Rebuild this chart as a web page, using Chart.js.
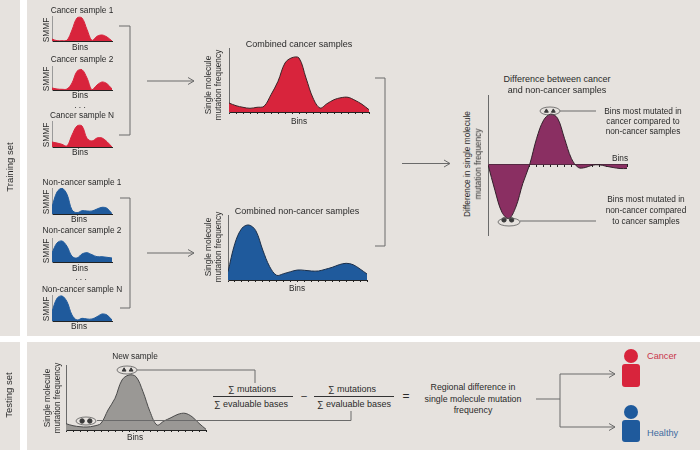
<!DOCTYPE html>
<html lang="en">
<head>
<meta charset="UTF-8">
<title>Single molecule mutation frequency classifier</title>
<script src="https://cdn.jsdelivr.net/npm/chart.js"></script>
<style>
    html, body { margin: 0; padding: 0; background: #fff; }
    #page { position: relative; width: 700px; height: 450px; overflow: hidden; font-family: "Liberation Sans", Arial, sans-serif; color: #2a2a2a; }
    .band { position: absolute; background: #e6e2de; }
    canvas { position: absolute; }
    svg { position: absolute; left: 0; top: 0; }
    .label { position: absolute; white-space: nowrap; font-size: 8.3px; line-height: 1; }
</style>
</head>
<body>
<div id="page">
    <div class="band" style="left:0;top:0;width:20px;height:336px"></div>
    <div class="band" style="left:27px;top:0;width:673px;height:336px"></div>
    <div class="band" style="left:0;top:342px;width:20px;height:108px"></div>
    <div class="band" style="left:27px;top:342px;width:673px;height:108px"></div>
</div>

<script>
    // heights, one value per bin
    const smallBins = [0, 1, 2, 3, 4, 5, 6, 7, 8, 9, 10, 11, 12];
    const cancerSample1 = [2, 0.3, 0.3, 0.7, 11, 23, 23, 11.5, 0.7, 4.7, 6, 4, 0];
    const cancerSample2 = [2, 1, 0.7, 1, 7, 18.7, 20.3, 12, 0.3, 5, 8, 6.3, 1];
    const cancerSampleN = [5, 4, 2.7, 1, 12, 21, 21, 8.7, 6, 9, 9, 5.3, 0];
    const nonCancerSample1 = [7, 22, 25.7, 19.7, 4, 1.3, 3.3, 3, 3, 5, 6.7, 5.7, 0.3];
    const nonCancerSample2 = [9, 19, 21, 15.7, 5.7, 4, 8, 9.3, 7.3, 5.3, 5.3, 4.7, 4];
    const nonCancerSampleN = [9.3, 22.7, 25, 19.3, 6, 1, 2.7, 2, 2, 4.3, 7, 6, 1];

    const bins = [0, 1, 2, 3, 4, 5, 6, 7, 8, 9, 10, 11, 12, 13, 14, 15, 16, 17, 18, 19, 20];
    const combinedCancer = [9, 6.3, 4.7, 3.7, 4.7, 5.7, 17.3, 30.7, 49, 54.3, 54, 34, 14, 4, 8.3, 12.3, 14.3, 14.7, 11.7, 7.7, 2.3];
    const combinedNonCancer = [8.3, 36.7, 51.7, 55, 49.3, 30, 13.3, 4.7, 6.3, 8.3, 10, 9.7, 9, 9, 10.7, 12.7, 15.3, 16.7, 15.3, 11, 6];
    const difference = [0, -25.7, -47.3, -53.7, -42.3, -19, 0, 26, 44, 50, 46, 26, 6, -3, -3, -0.7, -0.3, -1.7, -3, -4, -4];
    const newSample = [6.3, 4.3, 3.3, 3, 4, 6.7, 20, 31.7, 50, 55, 53.3, 38.3, 18.3, 5, 9, 12.3, 15.7, 16.7, 13.3, 6.7, 0.7];

    // flagged bins
    const diffUpBins = [8.4, 9.4];
    const diffUpValues = [53, 53];
    const diffDownBins = [2.3, 3.4];
    const diffDownValues = [-55, -55];
    const newUpBins = [8.3, 9.3];
    const newUpValues = [60, 60];
    const newDownBins = [2.3, 3.4];
    const newDownValues = [9, 9];

    const RED = "#d8243c", BLUE = "#1f5a9c", PURPLE = "#8a2f62", GREY = "#9a9895";
    const page = document.getElementById("page");

    function series(xs, ys) {
        return xs.map((x, i) => ({ x: x, y: ys[i] }));
    }

    function marks(xs, ys, style) {
        return {
            type: "line", showLine: false, data: series(xs, ys), pointStyle: style,
            pointRadius: 2.2, pointBackgroundColor: "#3a3a3a", pointBorderColor: "#3a3a3a", clip: false
        };
    }

    // p: left/right/top/bottom of the plot in page pixels, yMin/yMax in value units
    function addPanel(p) {
        const pad = 6;
        const c = document.createElement("canvas");
        c.width = p.right - p.left + pad * 2;
        c.height = p.bottom - p.top + pad * 2;
        c.style.left = (p.left - pad) + "px";
        c.style.top = (p.top - pad) + "px";
        page.appendChild(c);
        const datasets = [{
            data: series(p.xs, p.ys),
            borderColor: p.line, borderWidth: p.lineWidth, backgroundColor: p.color,
            fill: "origin", pointRadius: 0, tension: 0.35
        }].concat(p.marks || []);
        new Chart(c, {
            type: "line",
            data: { datasets: datasets },
            options: {
                responsive: false, animation: false,
                layout: { padding: { top: pad, right: pad, left: 0, bottom: 0 } },
                plugins: { legend: { display: false }, tooltip: { enabled: false }, title: { display: false } },
                scales: {
                    x: {
                        type: "linear", min: 0, max: p.xs[p.xs.length - 1],
                        position: p.crossAtZero ? { y: 0 } : "bottom",
                        afterFit: s => { s.height = pad; },
                        border: { color: "#222", width: 1 },
                        grid: { display: p.ticks, drawOnChartArea: false, drawTicks: true, tickLength: 2, color: "#222" },
                        ticks: { display: false, stepSize: 1, autoSkip: false }
                    },
                    y: {
                        min: p.yMin, max: p.yMax,
                        afterFit: s => { s.width = pad; },
                        border: { color: p.axis || "#6a6a6a", width: 1 },
                        grid: { display: false },
                        ticks: { display: false }
                    }
                }
            }
        });
    }

    function label(text, x, y, opts) {
        opts = opts || {};
        const d = document.createElement("div");
        d.className = "label";
        d.textContent = text;
        d.style.left = x + "px";
        d.style.top = y + "px";
        const anchor = opts.left ? "translate(0,-50%)" : "translate(-50%,-50%)";
        d.style.transform = anchor + (opts.rotate ? " rotate(-90deg)" : "");
        if (opts.size) d.style.fontSize = opts.size + "px";
        if (opts.color) d.style.color = opts.color;
        page.appendChild(d);
    }

    // six small sample charts
    const smallPanels = [
        { ys: cancerSample1, color: RED, top: 16, bottom: 41, title: "Cancer sample 1", titleY: 10, binsX: 80, binsY: 47 },
        { ys: cancerSample2, color: RED, top: 66, bottom: 90, title: "Cancer sample 2", titleY: 59, binsX: 80, binsY: 95 },
        { ys: cancerSampleN, color: RED, top: 121, bottom: 147, title: "Cancer sample N", titleY: 115, binsX: 80, binsY: 152 },
        { ys: nonCancerSample1, color: BLUE, top: 188, bottom: 214, title: "Non-cancer sample 1", titleY: 182, binsX: 79, binsY: 219 },
        { ys: nonCancerSample2, color: BLUE, top: 238, bottom: 262, title: "Non-cancer sample 2", titleY: 230, binsX: 80, binsY: 268 },
        { ys: nonCancerSampleN, color: BLUE, top: 295, bottom: 321, title: "Non-cancer sample N", titleY: 289, binsX: 79, binsY: 326 }
    ];
    smallPanels.forEach(s => {
        addPanel({
            left: 52, right: 112, top: s.top, bottom: s.bottom, xs: smallBins, ys: s.ys,
            yMin: 0, yMax: s.bottom - s.top, color: s.color, line: s.color, lineWidth: 1, ticks: false, axis: "#9a9a9a"
        });
        label(s.title, 82, s.titleY);
        label("Bins", s.binsX, s.binsY);
        label("SMMF", 46, (s.top + s.bottom) / 2 + 1, { rotate: true });
    });
    label(". . .", 80, 105);
    label(". . .", 81, 277);

    addPanel({ left: 229, right: 369, top: 48, bottom: 112, xs: bins, ys: combinedCancer, yMin: 0, yMax: 64, color: RED, line: "#3a2326", lineWidth: 1, ticks: true });
    label("Combined cancer samples", 299, 44, { size: 9 });
    label("Bins", 299, 121);
    label("Single molecule", 208, 85, { rotate: true });
    label("mutation frequency", 218, 85, { rotate: true });

    addPanel({ left: 228, right: 367, top: 215, bottom: 280, xs: bins, ys: combinedNonCancer, yMin: 0, yMax: 65, color: BLUE, line: "#1b2f4a", lineWidth: 1, ticks: true });
    label("Combined non-cancer samples", 297, 211, { size: 9 });
    label("Bins", 297, 288);
    label("Single molecule", 208, 247, { rotate: true });
    label("mutation frequency", 218, 247, { rotate: true });

    addPanel({
        left: 488, right: 627, top: 95, bottom: 234, xs: bins, ys: difference, yMin: -70, yMax: 69,
        color: PURPLE, line: "#33202b", lineWidth: 1, ticks: true, crossAtZero: true,
        marks: [marks(diffUpBins, diffUpValues, "triangle"), marks(diffDownBins, diffDownValues, "circle")]
    });
    label("Difference between cancer", 557, 79, { size: 9 });
    label("and non-cancer samples", 557, 90, { size: 9 });
    label("Difference in single molecule", 467, 164, { rotate: true });
    label("mutation frequency", 478, 164, { rotate: true });
    label("Bins", 620, 158);
    ["Bins most mutated in", "cancer compared to", "non-cancer samples"].forEach((t, i) => label(t, 643, 111 + i * 10));
    ["Bins most mutated in", "non-cancer compared", "to cancer samples"].forEach((t, i) => label(t, 646, 199 + i * 11));

    addPanel({
        left: 66, right: 206, top: 365, bottom: 430, xs: bins, ys: newSample, yMin: 0, yMax: 65,
        color: GREY, line: "#4a4a4a", lineWidth: 1, ticks: true,
        marks: [marks(newUpBins, newUpValues, "triangle"), marks(newDownBins, newDownValues, "circle")]
    });
    label("New sample", 135, 356);
    label("Bins", 135, 437);
    label("Single molecule", 47, 398, { rotate: true });
    label("mutation frequency", 57, 398, { rotate: true });

    label("Training set", 10, 167, { rotate: true, size: 9.5 });
    label("Testing set", 9, 395, { rotate: true, size: 9.5 });

    label("∑ mutations", 252, 389, { size: 9 });
    label("∑ evaluable bases", 251, 404, { size: 9 });
    label("–", 304, 396, { size: 10 });
    label("∑ mutations", 352, 389, { size: 9 });
    label("∑ evaluable bases", 354, 404, { size: 9 });
    label("=", 406, 396, { size: 12 });
    ["Regional difference in", "single molecule mutation", "frequency"].forEach((t, i) => label(t, 473, 387 + i * 11.5, { size: 8.8 }));
    label("Cancer", 647, 357, { left: true, color: "#c9344c", size: 9.2 });
    label("Healthy", 647, 434, { left: true, color: "#3d6b9f", size: 9.2 });

    // connectors, arrows and people sit on top of the charts
    const svgNS = "http://www.w3.org/2000/svg";
    const svg = document.createElementNS(svgNS, "svg");
    svg.setAttribute("width", 700);
    svg.setAttribute("height", 450);
    page.appendChild(svg);

    function shape(tag, attrs) {
        const el = document.createElementNS(svgNS, tag);
        Object.keys(attrs).forEach(k => el.setAttribute(k, attrs[k]));
        svg.appendChild(el);
    }
    function path(d, color) {
        shape("path", { d: d, fill: "none", stroke: color || "#6a6a6a", "stroke-width": 1 });
    }
    function arrow(x1, x2, y) {
        path(`M${x1} ${y}H${x2}M${x2 - 6} ${y - 3.5}L${x2} ${y}L${x2 - 6} ${y + 3.5}`);
    }

    path("M119 26H130V135H119");
    path("M120 198H130V308H120");
    path("M375 78H385V246H375");
    arrow(147, 194, 81);
    arrow(147, 194, 253);
    arrow(402, 450, 163.5);

    [[550, 111, 10], [509, 222, 11], [127, 370, 10], [86, 421, 10]].forEach(e => {
        shape("ellipse", { cx: e[0], cy: e[1], rx: e[2], ry: 4, fill: "none", stroke: "#5a5a5a", "stroke-width": 0.8 });
    });
    path("M560 111H596");
    path("M520 221H596");
    path("M137 370H255V383");
    path("M97 420.5H351V411");

    path("M213 396.5H293", "#333");
    path("M314 396.5H394", "#333");

    path("M536 399H560M560 374V427");
    arrow(560, 615, 374);
    arrow(560, 615, 427);

    [[356, 364, 387, RED], [412, 420, 442, BLUE]].forEach(m => {
        shape("circle", { cx: 631, cy: m[0], r: 7, fill: m[3] });
        shape("rect", { x: 622, y: m[1], width: 18, height: m[2] - m[1], rx: 3, fill: m[3] });
    });
</script>
</body>
</html>
